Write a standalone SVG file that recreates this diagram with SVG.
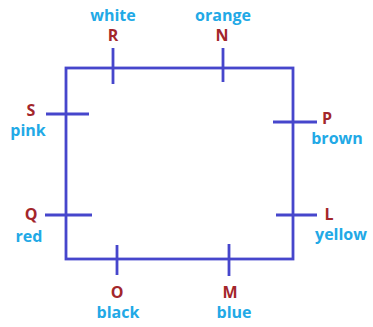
<svg xmlns="http://www.w3.org/2000/svg" width="373" height="327" viewBox="0 0 373 327">
  <style>
    .wire { fill: none; stroke: #4646cc; stroke-width: 2.8; stroke-linecap: butt; }
    .tag { font-family: "Open Sans", "Liberation Sans", sans-serif; font-weight: bold; font-size: 16px; fill: #a3262b; text-anchor: middle; }
    .col { font-family: "Open Sans", "Liberation Sans", sans-serif; font-weight: bold; font-size: 16px; fill: #22a9e6; text-anchor: middle; }
  </style>
  <rect width="373" height="327" fill="#ffffff"/>
  <g id="connectors">
    <rect class="wire" x="66" y="68" width="227" height="191"/>
  </g>
  <g id="node-R">
    <line class="wire" x1="113" y1="48" x2="113" y2="84"/>
    <text class="col" x="113" y="21">white</text>
    <text class="tag" x="113" y="41">R</text>
  </g>
  <g id="node-N">
    <line class="wire" x1="223" y1="48" x2="223" y2="82"/>
    <text class="col" x="223" y="21">orange</text>
    <text class="tag" x="222" y="41">N</text>
  </g>
  <g id="node-S">
    <line class="wire" x1="46" y1="114" x2="89" y2="114"/>
    <text class="tag" x="31" y="116">S</text>
    <text class="col" x="28" y="136">pink</text>
  </g>
  <g id="node-Q">
    <line class="wire" x1="45" y1="215" x2="92" y2="215"/>
    <text class="tag" x="31" y="220">Q</text>
    <text class="col" x="29" y="242">red</text>
  </g>
  <g id="node-P">
    <line class="wire" x1="273" y1="122" x2="317" y2="122"/>
    <text class="tag" x="327" y="124">P</text>
    <text class="col" x="337" y="144">brown</text>
  </g>
  <g id="node-L">
    <line class="wire" x1="276" y1="215" x2="317" y2="215"/>
    <text class="tag" x="329" y="220">L</text>
    <text class="col" x="341" y="240">yellow</text>
  </g>
  <g id="node-O">
    <line class="wire" x1="117" y1="245" x2="117" y2="275"/>
    <text class="tag" x="117" y="298">O</text>
    <text class="col" x="118" y="318">black</text>
  </g>
  <g id="node-M">
    <line class="wire" x1="229" y1="244" x2="229" y2="276"/>
    <text class="tag" x="230" y="298">M</text>
    <text class="col" x="234" y="318">blue</text>
  </g>
</svg>
